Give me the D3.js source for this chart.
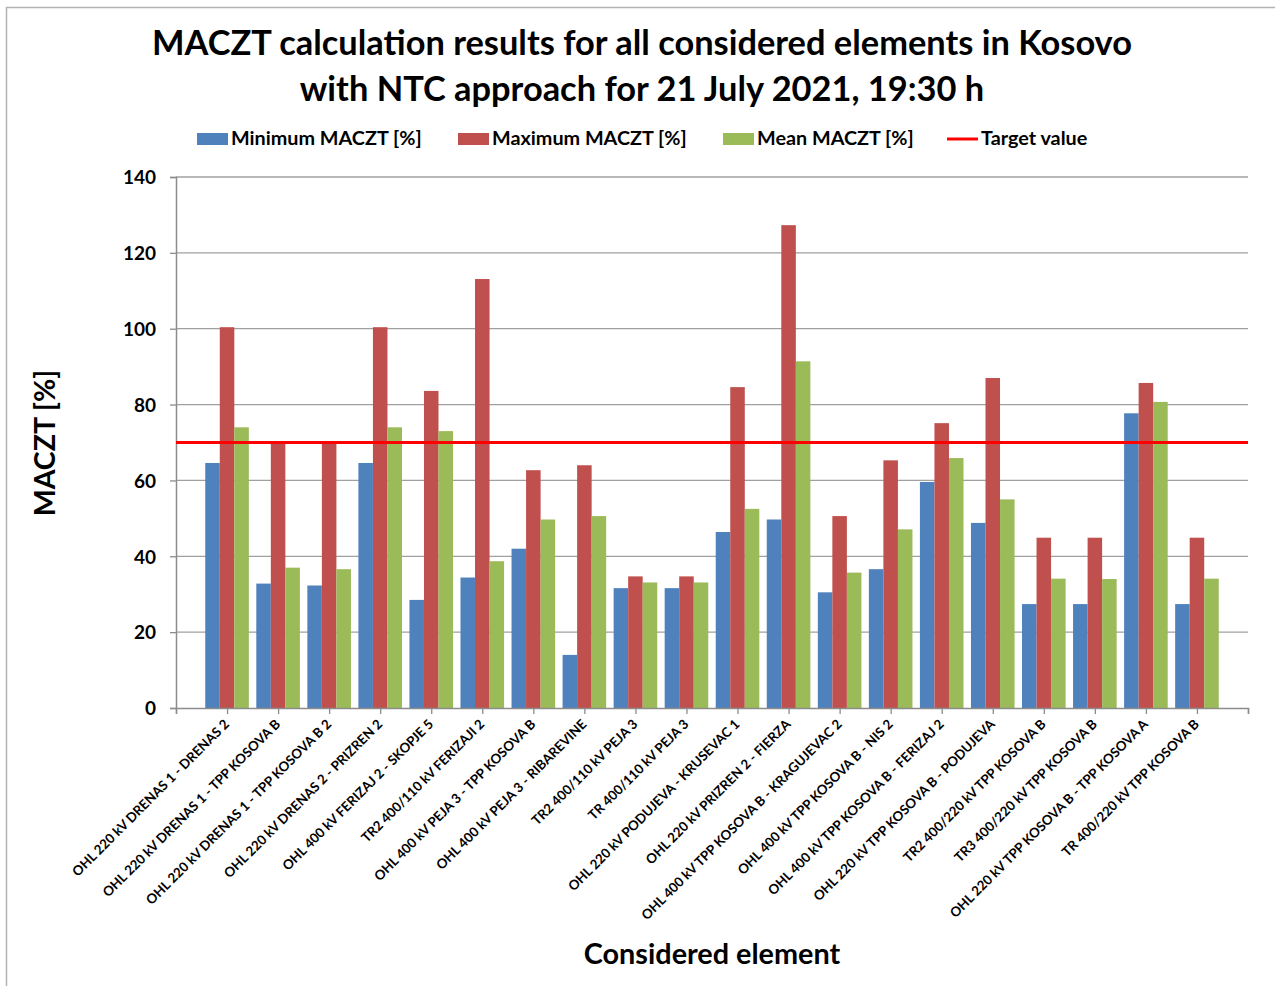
<!DOCTYPE html>
<html>
<head>
<meta charset="utf-8">
<script src="https://cdn.jsdelivr.net/npm/d3@7"></script>
<style>
  body { margin: 0; background: #fff; }
  text { font-family: Lato, "Open Sans", sans-serif; font-weight: bold; fill: #000; }
</style>
</head>
<body id="viz">
<script>
// Chart data
var elements = [
  "OHL 220 kV DRENAS 1 - DRENAS 2",
  "OHL 220 kV DRENAS 1 - TPP KOSOVA B",
  "OHL 220 kV DRENAS 1 - TPP KOSOVA B 2",
  "OHL 220 kV DRENAS 2 - PRIZREN 2",
  "OHL 400 kV FERIZAJ 2 - SKOPJE 5",
  "TR2 400/110 kV FERIZAJI 2",
  "OHL 400 kV PEJA 3 - TPP KOSOVA B",
  "OHL 400 kV PEJA 3 - RIBAREVINE",
  "TR2 400/110 kV PEJA 3",
  "TR 400/110 kV PEJA 3",
  "OHL 220 kV PODUJEVA - KRUSEVAC 1",
  "OHL 220 kV PRIZREN 2 - FIERZA",
  "OHL 400 kV TPP KOSOVA B - KRAGUJEVAC 2",
  "OHL 400 kV TPP KOSOVA B - NIS 2",
  "OHL 400 kV TPP KOSOVA B - FERIZAJ 2",
  "OHL 220 kV TPP KOSOVA B - PODUJEVA",
  "TR2 400/220 kV TPP KOSOVA B",
  "TR3 400/220 kV TPP KOSOVA B",
  "OHL 220 kV TPP KOSOVA B - TPP KOSOVA A",
  "TR 400/220 kV TPP KOSOVA B"
]
var minMaczt  = [64.6, 32.8, 32.3, 64.6, 28.5, 34.4, 42.0, 14.0, 31.6, 31.6, 46.4, 49.7, 30.5, 36.6, 59.6, 48.8, 27.4, 27.4, 77.7, 27.4]
var maxMaczt  = [100.4, 70.0, 70.0, 100.4, 83.6, 113.1, 62.7, 64.0, 34.7, 34.7, 84.6, 127.3, 50.6, 65.3, 75.1, 87.0, 44.9, 44.9, 85.7, 44.9]
var meanMaczt = [74.0, 37.0, 36.6, 74.0, 73.0, 38.7, 49.7, 50.6, 33.1, 33.1, 52.5, 91.4, 35.7, 47.1, 65.9, 55.0, 34.1, 34.0, 80.7, 34.1]
var targetValue = 70
var seriesNames = ["Minimum MACZT [%]", "Maximum MACZT [%]", "Mean MACZT [%]"]
var seriesColors = ["#4f81bd", "#c0504d", "#9bbb59"]
var yTicks = [0, 20, 40, 60, 80, 100, 120, 140]

// Layout
width = 1275
height = 986
plot_left = 176
plot_right = 1248
plot_top = 177
plot_bottom = 708

svg = d3.select("body#viz")
  .append("svg")
  .attr("width", width)
  .attr("height", height)

// outer chart border (Excel style)
svg.append("rect")
  .attr("x", 6.5).attr("y", 7.5)
  .attr("width", 1290).attr("height", 1000)
  .attr("fill", "none")
  .attr("stroke", "#b3b3b3")
  .attr("stroke-width", 1.5)

// Scales: 21 slots, groups sit on the tick marks 1..20
var x = d3.scaleLinear().domain([0, elements.length + 1]).range([plot_left, plot_right])
var xSub = d3.scaleBand().domain(d3.range(3)).range([-21.8, 21.8])
var y = d3.scaleLinear().domain([0, 140]).range([plot_bottom, plot_top])

// Gridlines
svg.append("g")
  .selectAll("line")
  .data(yTicks.filter(function(d) { return d > 0 }))
  .enter().append("line")
    .attr("x1", plot_left).attr("x2", plot_right)
    .attr("y1", function(d) { return y(d) }).attr("y2", function(d) { return y(d) })
    .style("stroke", "#a0a0a0")
    .style("stroke-width", 1.3)

// Bars
var rows = elements.map(function(e, i) { return [minMaczt[i], maxMaczt[i], meanMaczt[i]] })
var groups = svg.append("g")
  .selectAll("g")
  .data(rows)
  .enter().append("g")
    .attr("transform", function(d, i) { return "translate(" + x(i + 1) + ",0)" })

groups.selectAll("rect")
  .data(function(d) { return d })
  .enter().append("rect")
    .attr("x", function(d, j) { return xSub(j) })
    .attr("width", xSub.bandwidth())
    .attr("y", function(d) { return y(d) })
    .attr("height", function(d) { return y(0) - y(d) })
    .attr("fill", function(d, j) { return seriesColors[j] })

// Y axis
var yAxis = svg.append("g")
  .attr("transform", "translate(" + plot_left + ",0)")
  .call(d3.axisLeft(y).tickValues(yTicks).tickSize(6).tickPadding(14))
yAxis.select(".domain").attr("stroke", "#8c8c8c").attr("stroke-width", 1.5)
yAxis.selectAll(".tick line").attr("stroke", "#8c8c8c").attr("stroke-width", 1.3)
yAxis.selectAll(".tick text")
  .style("font-family", "Lato, sans-serif")
  .style("font-weight", "bold")
  .style("font-size", "19px")
  .attr("dy", "0.36em")

// X axis
var xAxis = svg.append("g")
  .attr("transform", "translate(0," + plot_bottom + ")")
  .call(d3.axisBottom(x).tickValues(d3.range(0, elements.length + 2)).tickSize(6).tickFormat(""))
xAxis.select(".domain").attr("stroke", "#8c8c8c").attr("stroke-width", 1.5)
xAxis.selectAll(".tick line").attr("stroke", "#8c8c8c").attr("stroke-width", 1.3)

// Category labels, rotated
svg.append("g")
  .selectAll("text")
  .data(elements)
  .enter().append("text")
    .attr("transform", function(d, i) { return "translate(" + (x(i + 1) + 3) + "," + (plot_bottom + 17) + ") rotate(-45)" })
    .attr("text-anchor", "end")
    .style("font-size", "13.3px")
    .text(function(d) { return d })

// Target line
svg.append("line")
  .attr("x1", plot_left).attr("x2", plot_right)
  .attr("y1", y(targetValue)).attr("y2", y(targetValue))
  .style("stroke", "#ff0000")
  .style("stroke-width", 3)

// Title
svg.append("text")
  .attr("x", 642).attr("y", 55)
  .attr("text-anchor", "middle")
  .style("font-size", "34.4px")
  .text("MACZT calculation results for all considered elements in Kosovo")
svg.append("text")
  .attr("x", 642).attr("y", 101)
  .attr("text-anchor", "middle")
  .style("font-size", "34.4px")
  .text("with NTC approach for 21 July 2021, 19:30 h")

// Legend
var legendX = [197, 458, 723]
seriesNames.forEach(function(name, j) {
  svg.append("rect")
    .attr("x", legendX[j]).attr("y", 133)
    .attr("width", 31).attr("height", 12)
    .attr("fill", seriesColors[j])
  svg.append("text")
    .attr("x", legendX[j] + 34).attr("y", 145)
    .style("font-size", "19.8px")
    .text(name)
})
svg.append("line")
  .attr("x1", 947).attr("x2", 978)
  .attr("y1", 139).attr("y2", 139)
  .style("stroke", "#ff0000")
  .style("stroke-width", 3)
svg.append("text")
  .attr("x", 981).attr("y", 145)
  .style("font-size", "19.8px")
  .text("Target value")

// Axis titles
svg.append("text")
  .attr("transform", "translate(55,443) rotate(-90)")
  .attr("text-anchor", "middle")
  .style("font-size", "28.5px")
  .text("MACZT [%]")
svg.append("text")
  .attr("x", 712).attr("y", 964)
  .attr("text-anchor", "middle")
  .style("font-size", "28.8px")
  .text("Considered element")
</script>
</body>
</html>
